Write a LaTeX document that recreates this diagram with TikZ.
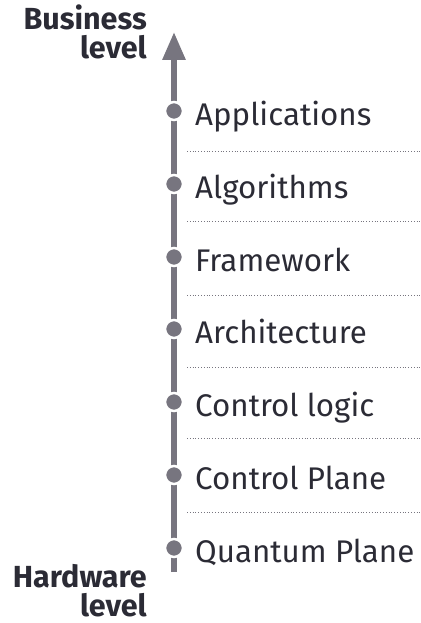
\documentclass[tikz,border=0pt]{standalone}
\usepackage{fontspec}
\setmainfont{Fira Sans}
\usetikzlibrary{arrows.meta}
\definecolor{axisgrey}{HTML}{77757F}
\definecolor{textdark}{HTML}{2B2B35}
\tikzset{
  axis/.style={draw=axisgrey, line width=6pt, -{Triangle[length=28pt,width=22pt]}},
  dotnode/.style={circle, fill=axisgrey, draw=white, line width=2.5pt, minimum size=18pt, inner sep=0pt},
  layer/.style={anchor=base west, text=textdark, font=\fontsize{31.3}{35}\selectfont, inner sep=0pt},
  sep/.style={draw=axisgrey, dotted, line width=0.8pt},
  endlabel/.style={anchor=base east, text=textdark, font=\bfseries\fontsize{30.5}{31}\selectfont, inner sep=0pt}
}
\begin{document}
\begin{tikzpicture}[x=1pt,y=-1pt]
\useasboundingbox (0,0) rectangle (420,623);
\coordinate (bot) at (174,572);
\coordinate (top) at (174,32);
\draw[axis] (bot) -- (top);
\foreach \n/\y/\t in {a/111/Applications, b/184/Algorithms, c/257/Framework, d/329/Architecture, e/402/Control logic, f/475/Control Plane, g/548/Quantum Plane}{
  \node[dotnode] (dot\n) at (174,\y) {};
  \node[layer] (lab\n) at (195,\y+14.5) {\t};
}
\foreach \n/\y in {a/151, b/221, c/295, d/367, e/438, f/512}{
  \coordinate (sl\n) at (187,\y);
  \coordinate (sr\n) at (420,\y);
  \draw[sep] (sl\n) -- (sr\n);
}
\node[endlabel] (biz) at (147,30) {Business};
\node[endlabel] (bizl) at (147,59) {level};
\node[endlabel] (hw) at (147,587) {Hardware};
\node[endlabel] (hwl) at (147,616) {level};
\end{tikzpicture}
\end{document}
